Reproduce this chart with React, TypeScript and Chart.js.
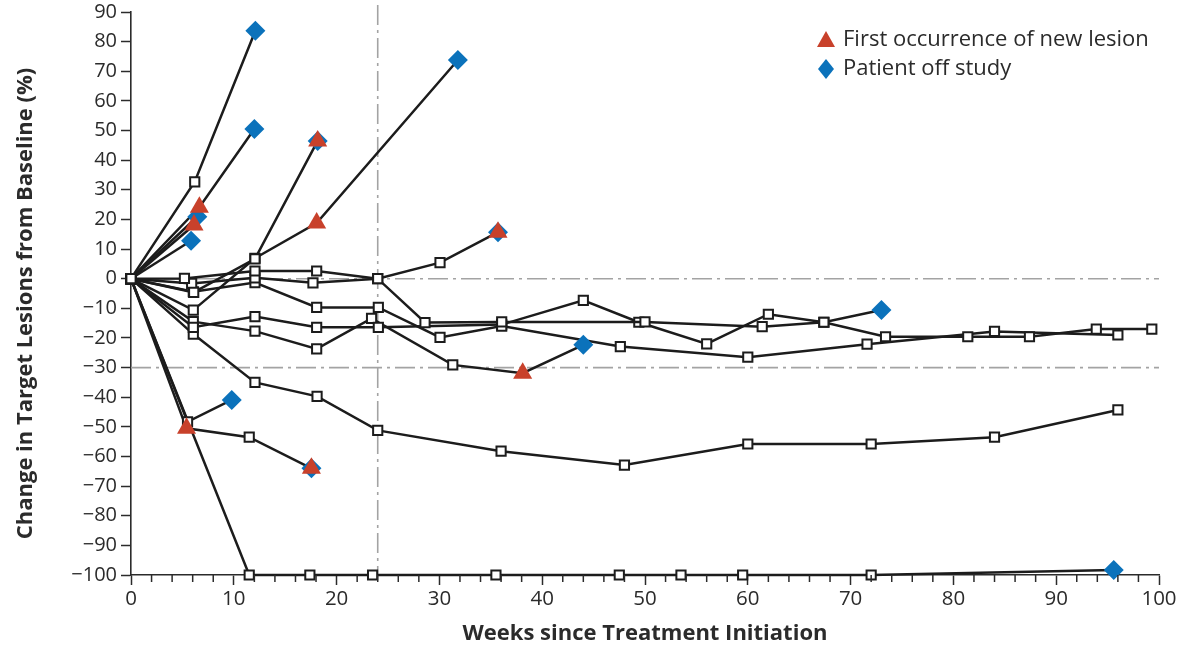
import React, { useEffect, useRef } from 'react';
import { Chart, registerables } from 'chart.js';

Chart.register(...registerables);

// ---------------- data ----------------
// marks: s = open square, t = first new lesion (triangle), d = off study (diamond), td = both
const patientAWeeks = [0, 6.2, 12.1];
const patientAValues = [0, 32.7, 83.7];
const patientAMarks = ['s', 's', 'd'];

const patientBWeeks = [0, 6.65, 12.0];
const patientBValues = [0, 24.1, 50.5];
const patientBMarks = ['s', 't', 'd'];

const patientCWeeks = [0, 6.13];
const patientCValues = [0, 18.1];
const patientCMarks = ['s', 't'];

const patientC2Weeks = [0, 6.45];
const patientC2Values = [0, 20.9];
const patientC2Marks = ['s', 'd'];

const patientDWeeks = [0, 5.84];
const patientDValues = [0, 12.8];
const patientDMarks = ['s', 'd'];

const patientEWeeks = [0, 6.1, 12.06, 18.16];
const patientEValues = [0, -4.6, 6.7, 46.5];
const patientEMarks = ['s', 's', 's', 'td'];

const patientFWeeks = [0, 6.06, 12.06, 18.06, 31.8];
const patientFValues = [0, -10.6, 6.9, 18.8, 73.8];
const patientFMarks = ['s', 's', 's', 't', 'd'];

const patientLWeeks = [0, 5.2, 12.06, 18.06, 24.0, 30.06, 35.7];
const patientLValues = [0, 0.1, 2.6, 2.6, 0, 5.4, 15.7];
const patientLMarks = ['s', 's', 's', 's', 's', 's', 'td'];

const patientMWeeks = [0, 5.9, 12.06, 17.7, 24.0, 28.6, 36.06, 50.0, 61.4, 67.4, 73.4, 81.4, 87.4, 93.9, 99.3];
const patientMValues = [0, -1.6, 0.3, -1.4, 0, -14.8, -14.6, -14.6, -16.2, -14.7, -19.6, -19.6, -19.6, -17.0, -17.0];
const patientMMarks = ['s', 's', 's', 's', 's', 's', 's', 's', 's', 's', 's', 's', 's', 's', 's'];

const patientNWeeks = [0, 6.06, 12.06, 18.06, 24.06, 30.06, 36.06, 47.6, 60.0, 71.6, 84.0, 96.0];
const patientNValues = [0, -4.4, -1.3, -9.7, -9.7, -19.8, -16.0, -22.9, -26.5, -22.1, -17.8, -19.0];
const patientNMarks = ['s', 's', 's', 's', 's', 's', 's', 's', 's', 's', 's', 's'];

const patientKWeeks = [0, 6.06, 12.06, 18.06, 24.06, 36.06, 44.0, 49.4, 56.0, 62.0, 67.4, 73.0];
const patientKValues = [0, -16.4, -12.8, -16.4, -16.4, -15.5, -7.3, -14.7, -22.0, -12.0, -14.7, -10.6];
const patientKMarks = ['s', 's', 's', 's', 's', 's', 's', 's', 's', 's', 's', 'd'];

const patientJWeeks = [0, 6.06, 12.06, 18.06, 23.4, 31.3, 38.1, 44.0];
const patientJValues = [0, -14.5, -17.7, -23.7, -13.4, -29.1, -31.9, -22.3];
const patientJMarks = ['s', 's', 's', 's', 's', 's', 't', 'd'];

const patientQWeeks = [0, 6.06, 12.06, 18.1, 24.0, 36.0, 48.0, 60.0, 72.0, 84.0, 96.0];
const patientQValues = [0, -18.7, -35.0, -39.7, -51.2, -58.2, -62.9, -55.8, -55.8, -53.5, -44.3];
const patientQMarks = ['s', 's', 's', 's', 's', 's', 's', 's', 's', 's', 's'];

const patientGWeeks = [0, 5.5, 9.8];
const patientGValues = [0, -48.3, -40.9];
const patientGMarks = ['s', 's', 'd'];

const patientHWeeks = [0, 5.4, 11.5, 17.55];
const patientHValues = [0, -50.5, -53.5, -64.0];
const patientHMarks = ['s', 't', 's', 'td'];

const patientIWeeks = [0, 11.5, 17.4, 23.5, 35.5, 47.5, 53.5, 59.5, 72.0, 95.6];
const patientIValues = [0, -100, -100, -100, -100, -100, -100, -100, -100, -98.3];
const patientIMarks = ['s', 's', 's', 's', 's', 's', 's', 's', 's', 'd'];

const xTickValues = [0, 10, 20, 30, 40, 50, 60, 70, 80, 90, 100];
const yTickValues = [-100, -90, -80, -70, -60, -50, -40, -30, -20, -10, 0, 10, 20, 30, 40, 50, 60, 70, 80, 90];
const referenceYValues = [0, -30];
const referenceXWeeks = [24];
const legendLabels = ['First occurrence of new lesion', 'Patient off study'];
const xTitle = 'Weeks since Treatment Initiation';
const yTitle = 'Change in Target Lesions from Baseline (%)';

const patients = [
  { weeks: patientAWeeks, values: patientAValues, marks: patientAMarks },
  { weeks: patientBWeeks, values: patientBValues, marks: patientBMarks },
  { weeks: patientCWeeks, values: patientCValues, marks: patientCMarks },
  { weeks: patientC2Weeks, values: patientC2Values, marks: patientC2Marks },
  { weeks: patientDWeeks, values: patientDValues, marks: patientDMarks },
  { weeks: patientEWeeks, values: patientEValues, marks: patientEMarks },
  { weeks: patientFWeeks, values: patientFValues, marks: patientFMarks },
  { weeks: patientLWeeks, values: patientLValues, marks: patientLMarks },
  { weeks: patientMWeeks, values: patientMValues, marks: patientMMarks },
  { weeks: patientNWeeks, values: patientNValues, marks: patientNMarks },
  { weeks: patientKWeeks, values: patientKValues, marks: patientKMarks },
  { weeks: patientJWeeks, values: patientJValues, marks: patientJMarks },
  { weeks: patientQWeeks, values: patientQValues, marks: patientQMarks },
  { weeks: patientGWeeks, values: patientGValues, marks: patientGMarks },
  { weeks: patientHWeeks, values: patientHValues, marks: patientHMarks },
  { weeks: patientIWeeks, values: patientIValues, marks: patientIMarks },
];

// ---------------- styles ----------------
const FONT = '"Open Sans", "DejaVu Sans", sans-serif';
const INK = '#1c1c1c';
const TEXT = '#2b2b2b';
const RED = '#c8412b';
const BLUE = '#0b72bb';
const REF = '#a3a3a3';

function buildDatasets() {
  const ds: any[] = [];
  const tri: { x: number; y: number }[] = [];
  const dia: { x: number; y: number }[] = [];
  patients.forEach((p) => {
    const radii = p.marks.map((m) => (m === 's' ? 6.5 : 0));
    ds.push({
      type: 'line',
      data: p.weeks.map((w, i) => ({ x: w, y: p.values[i] })),
      borderColor: INK,
      borderWidth: 2.5,
      tension: 0,
      fill: false,
      pointStyle: 'rect',
      pointRadius: radii,
      pointHoverRadius: radii,
      pointBackgroundColor: '#ffffff',
      pointBorderColor: INK,
      pointBorderWidth: 2,
      clip: false,
      order: 3,
    });
    p.marks.forEach((m, i) => {
      if (m.includes('t')) tri.push({ x: p.weeks[i], y: p.values[i] });
      if (m.includes('d')) dia.push({ x: p.weeks[i], y: p.values[i] });
    });
  });
  ds.push({
    type: 'line',
    showLine: false,
    data: dia,
    pointStyle: 'rectRot',
    pointRadius: 10,
    pointHoverRadius: 10,
    pointBackgroundColor: BLUE,
    pointBorderColor: BLUE,
    pointBorderWidth: 0,
    borderWidth: 0,
    clip: false,
    order: 2,
  });
  ds.push({
    type: 'line',
    showLine: false,
    data: tri,
    pointStyle: 'triangle',
    pointRadius: 11,
    pointHoverRadius: 11,
    pointBackgroundColor: RED,
    pointBorderColor: RED,
    pointBorderWidth: 0,
    borderWidth: 0,
    clip: false,
    order: 1,
  });
  return ds;
}

const refLinesPlugin = {
  id: 'refLines',
  beforeDatasetsDraw(chart: any) {
    const { ctx, chartArea, scales } = chart;
    ctx.save();
    ctx.strokeStyle = REF;
    ctx.lineWidth = 1.6;
    ctx.setLineDash([20, 5, 3, 5]);
    referenceYValues.forEach((v) => {
      const y = scales.y.getPixelForValue(v);
      ctx.beginPath();
      ctx.moveTo(chartArea.left, y);
      ctx.lineTo(chartArea.right, y);
      ctx.stroke();
    });
    referenceXWeeks.forEach((w) => {
      const x = scales.x.getPixelForValue(w);
      ctx.beginPath();
      ctx.moveTo(x, chartArea.top - 7);
      ctx.lineTo(x, chartArea.bottom);
      ctx.stroke();
    });
    ctx.restore();
  },
  afterDraw(chart: any) {
    const { ctx, scales, chartArea } = chart;
    const xs = scales.x;
    ctx.save();
    // minor ticks every 2 weeks
    ctx.strokeStyle = TEXT;
    ctx.lineWidth = 1.5;
    for (let w = 2; w < 100; w += 2) {
      if (w % 10 === 0) continue;
      const x = xs.getPixelForValue(w);
      ctx.beginPath();
      ctx.moveTo(x, xs.top);
      ctx.lineTo(x, xs.top + 7);
      ctx.stroke();
    }
    // y axis title
    ctx.save();
    ctx.translate(26, (chartArea.top + chartArea.bottom) / 2 + 10);
    ctx.rotate(-Math.PI / 2);
    ctx.fillStyle = TEXT;
    ctx.font = `bold 22px ${FONT}`;
    ctx.textAlign = 'center';
    ctx.textBaseline = 'middle';
    ctx.fillText(yTitle, 0, 0);
    ctx.restore();
    // legend
    const lx = 826;
    const rows = [40, 69];
    ctx.fillStyle = RED;
    ctx.beginPath();
    ctx.moveTo(lx, rows[0] - 9);
    ctx.lineTo(lx + 9, rows[0] + 7);
    ctx.lineTo(lx - 9, rows[0] + 7);
    ctx.closePath();
    ctx.fill();
    ctx.fillStyle = BLUE;
    ctx.beginPath();
    ctx.moveTo(lx, rows[1] - 10);
    ctx.lineTo(lx + 8, rows[1]);
    ctx.lineTo(lx, rows[1] + 10);
    ctx.lineTo(lx - 8, rows[1]);
    ctx.closePath();
    ctx.fill();
    ctx.fillStyle = TEXT;
    ctx.font = `22px ${FONT}`;
    ctx.textBaseline = 'middle';
    ctx.textAlign = 'left';
    legendLabels.forEach((t, i) => ctx.fillText(t, lx + 17, rows[i]));
    ctx.restore();
  },
};

export default function App() {
  const ref = useRef<HTMLCanvasElement | null>(null);
  useEffect(() => {
    if (!ref.current) return;
    const chart = new Chart(ref.current, {
      type: 'line',
      data: { datasets: buildDatasets() },
      options: {
        animation: false,
        responsive: false,
        devicePixelRatio: 1,
        events: [],
        layout: { padding: { top: 12, right: 25, left: 0, bottom: 0 } },
        plugins: { legend: { display: false }, tooltip: { enabled: false } },
        scales: {
          x: {
            type: 'linear',
            min: 0,
            max: 100,
            afterBuildTicks: (s: any) => {
              s.ticks = xTickValues.map((v) => ({ value: v }));
            },
            afterFit: (s: any) => {
              s.height = 75;
              s.paddingLeft = 0;
              s.paddingRight = 0;
            },
            grid: { drawOnChartArea: false, tickLength: 10, tickColor: TEXT, tickWidth: 1.5 },
            border: { color: TEXT, width: 1.6 },
            ticks: { color: TEXT, font: { family: FONT, size: 20.5 }, padding: 2, maxRotation: 0, autoSkip: false },
            title: {
              display: true,
              text: xTitle,
              color: TEXT,
              font: { family: FONT, size: 22, weight: 'bold' },
              padding: { top: 0, bottom: 3 },
            },
          },
          y: {
            type: 'linear',
            min: -100,
            max: 90,
            afterBuildTicks: (s: any) => {
              s.ticks = yTickValues.map((v) => ({ value: v }));
            },
            afterFit: (s: any) => {
              s.width = 131;
              s.paddingTop = 0;
              s.paddingBottom = 0;
            },
            grid: { drawOnChartArea: false, tickLength: 10, tickColor: TEXT, tickWidth: 1.5 },
            border: { color: TEXT, width: 1.6 },
            ticks: {
              color: TEXT,
              font: { family: FONT, size: 20 },
              padding: 4,
              autoSkip: false,
              callback: (v: any) => (v < 0 ? '\u2212' + Math.abs(v) : String(v)),
            },
          },
        },
      },
      plugins: [refLinesPlugin],
    } as any);
    return () => chart.destroy();
  }, []);
  return (
    <div style={{ position: 'absolute', left: 0, top: 0, width: 1184, height: 650, background: '#fff' }}>
      <canvas ref={ref} width={1184} height={650} style={{ display: 'block' }} />
    </div>
  );
}
